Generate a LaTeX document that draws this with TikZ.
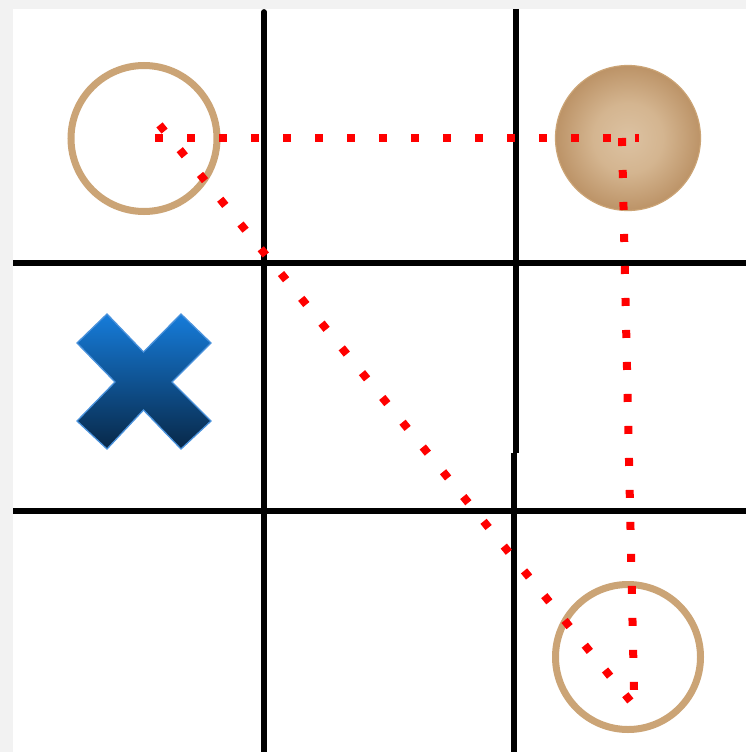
\documentclass[tikz,border=0pt]{standalone}
\definecolor{bggray}{HTML}{F2F2F2}
\definecolor{ringtan}{HTML}{CBA476}
\definecolor{xtop}{HTML}{167CDA}
\definecolor{xbot}{HTML}{082848}
\definecolor{xedge}{HTML}{4A92DC}
\pgfdeclareradialshading{ballshade}{\pgfpoint{0bp}{0bp}}{%
  color(0bp)=(rgb,255:red,220;green,194;blue,162);
  color(12bp)=(rgb,255:red,212;green,181;blue,144);
  color(25bp)=(rgb,255:red,188;green,147;blue,103);
  color(50bp)=(rgb,255:red,188;green,147;blue,103)}
\begin{document}
\begin{tikzpicture}[x=1pt,y=-1pt,
  gridline/.style={line width=5.8pt, black},
  ring/.style={draw=ringtan, line width=7pt},
  reddots/.style={red, line width=8pt, dash pattern=on 8pt off 24pt}]
\useasboundingbox (0,0) rectangle (746,752);
\fill[bggray] (0,0) rectangle (746,752);
\fill[white] (13,9) rectangle (746,752);
% grid
\coordinate (v1t) at (264,12);
\coordinate (v1b) at (264,760);
\coordinate (v2t) at (515.6,9);
\coordinate (v2m) at (515.6,453);
\coordinate (v3t) at (514.3,453);
\coordinate (v3b) at (514.3,760);
\coordinate (h1l) at (13,263);
\coordinate (h1r) at (746,263);
\coordinate (h2l) at (13,511);
\coordinate (h2r) at (746,511);
\draw[gridline, line cap=round] (v1t) -- (v1b);
\draw[gridline] (v2t) -- (v2m);
\draw[gridline] (v3t) -- (v3b);
\draw[gridline] (h1l) -- (h1r);
\draw[gridline] (h2l) -- (h2r);
% rings and ball
\draw[ring] (144,138.5) circle (73);
\draw[ring] (628,657) circle (72.5);
\shade[shading=ballshade] (628,138) circle (72.5);
\draw[ringtan, line width=1.2pt] (628,138) circle (72.5);
% cross
\shadedraw[top color=xtop, bottom color=xbot, draw=xedge, line width=1.3pt]
  (107,314) -- (143.5,352) -- (181,314) -- (211,343) -- (172,382) -- (211,421)
  -- (181,449) -- (143.5,410) -- (107,449) -- (77,421) -- (115,382) -- (77,343) -- cycle;
% red dotted lines
\coordinate (ha) at (155,138);
\coordinate (hb) at (639,138);
\coordinate (va) at (622,138);
\coordinate (vb) at (634,690);
\coordinate (da) at (159.5,124.9);
\coordinate (db) at (630.5,701.1);
\draw[reddots] (da) -- (db);
\draw[reddots] (ha) -- (hb);
\draw[reddots] (va) -- (vb);
\end{tikzpicture}
\end{document}
